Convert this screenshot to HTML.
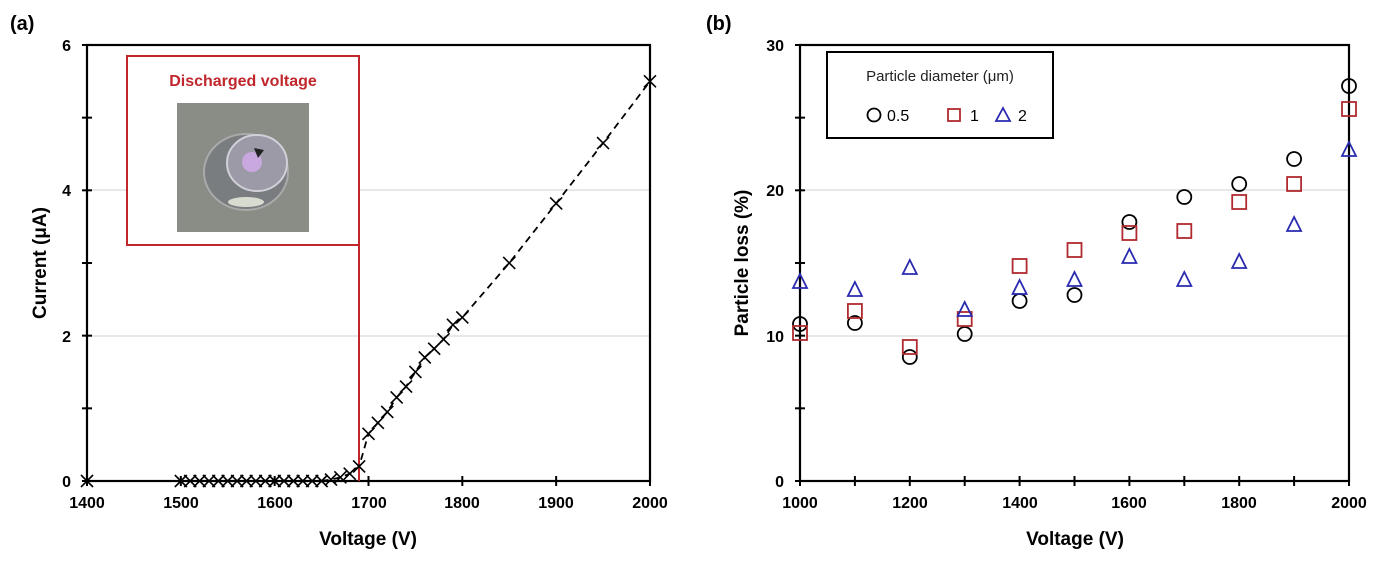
<!DOCTYPE html>
<html><head><meta charset="utf-8"><style>
html,body{margin:0;padding:0;background:#fff;}
svg{display:block;font-family:"Liberation Sans",Arial,sans-serif;}
</style></head><body>
<svg id="s" width="1384" height="562" viewBox="0 0 1384 562" xmlns="http://www.w3.org/2000/svg">
<rect width="1384" height="562" fill="#fff"/>
<!-- Panel a -->
<text x="10" y="30" font-size="20" font-weight="bold">(a)</text>
<line x1="87" y1="336" x2="650" y2="336" stroke="#d9d9d9" stroke-width="1.2"/>
<line x1="87" y1="190" x2="650" y2="190" stroke="#d9d9d9" stroke-width="1.2"/>
<rect x="87" y="45" width="563" height="436" fill="none" stroke="#000" stroke-width="2.2"/>
<g font-size="16" font-weight="bold" text-anchor="end">
<text x="71" y="487">0</text><text x="71" y="342">2</text><text x="71" y="196">4</text><text x="71" y="51">6</text>
</g>
<g font-size="16" font-weight="bold" text-anchor="middle">
<text x="87" y="508">1400</text><text x="181" y="508">1500</text><text x="275" y="508">1600</text><text x="369" y="508">1700</text><text x="462" y="508">1800</text><text x="556" y="508">1900</text><text x="650" y="508">2000</text>
<text x="368" y="545" font-size="19">Voltage (V)</text>
</g>
<text transform="translate(46,263) rotate(-90)" font-size="19" font-weight="bold" text-anchor="middle">Current (μA)</text>
<g id="ta" stroke="#000" stroke-width="2"></g>
<rect x="127" y="56" width="232" height="189" fill="#fff" stroke="#c0272d" stroke-width="2"/>
<line x1="359" y1="245" x2="359" y2="481" stroke="#c0272d" stroke-width="2"/>
<text x="243" y="86" font-size="16" font-weight="bold" fill="#c0272d" text-anchor="middle">Discharged voltage</text>
<rect x="177" y="103" width="132" height="129" fill="#8a8d86"/>
<ellipse cx="246" cy="172" rx="42" ry="38" fill="#7a7d80" stroke="#aaa" stroke-width="2"/>
<ellipse cx="257" cy="163" rx="30" ry="28" fill="#9d9aa8" stroke="#d0d0d8" stroke-width="2"/>
<circle cx="252" cy="162" r="10" fill="#c9a8e0"/>
<path d="M254 148 L264 150 L258 158 Z" fill="#222"/>
<ellipse cx="246" cy="202" rx="18" ry="5" fill="#d8dcd0"/>
<path id="da" fill="none" stroke="#000" stroke-width="1.8" stroke-dasharray="7,5"/>
<g id="ma" stroke="#000" stroke-width="1.6"></g>
<!-- Panel b -->
<text x="706" y="30" font-size="20" font-weight="bold">(b)</text>
<line x1="800" y1="336" x2="1349" y2="336" stroke="#d9d9d9" stroke-width="1.2"/>
<line x1="800" y1="190" x2="1349" y2="190" stroke="#d9d9d9" stroke-width="1.2"/>
<rect x="800" y="45" width="549" height="436" fill="none" stroke="#000" stroke-width="2.2"/>
<g font-size="16" font-weight="bold" text-anchor="end">
<text x="784" y="487">0</text><text x="784" y="342">10</text><text x="784" y="196">20</text><text x="784" y="51">30</text>
</g>
<g font-size="16" font-weight="bold" text-anchor="middle">
<text x="800" y="508">1000</text><text x="910" y="508">1200</text><text x="1020" y="508">1400</text><text x="1129" y="508">1600</text><text x="1239" y="508">1800</text><text x="1349" y="508">2000</text>
<text x="1075" y="545" font-size="19">Voltage (V)</text>
</g>
<text transform="translate(748,263) rotate(-90)" font-size="19" font-weight="bold" text-anchor="middle">Particle loss (%)</text>
<g id="tb" stroke="#000" stroke-width="2"></g>
<rect x="827" y="52" width="226" height="86" fill="#fff" stroke="#000" stroke-width="2"/>
<text x="940" y="81" font-size="15" text-anchor="middle" fill="#222">Particle diameter  (μm)</text>
<circle cx="874" cy="115" r="6.5" fill="none" stroke="#000" stroke-width="1.8"/>
<text x="887" y="121" font-size="16">0.5</text>
<rect x="948" y="109" width="12" height="12" fill="none" stroke="#b02a30" stroke-width="1.8"/>
<text x="970" y="121" font-size="16">1</text>
<path d="M1003 108 L1010 121 L996 121 Z" fill="none" stroke="#2a2ab0" stroke-width="1.8"/>
<text x="1018" y="121" font-size="16">2</text>
<g id="mb"></g>
<script>
var NS="http://www.w3.org/2000/svg";
function el(p,t,a){var e=document.createElementNS(NS,t);for(var k in a)e.setAttribute(k,a[k]);document.getElementById(p).appendChild(e);}
// ticks a
for(var i=0;i<=6;i++){var y=481-i*72.67;el("ta","line",{x1:82,x2:92,y1:y,y2:y});}
for(var v=1400;v<=2000;v+=100){var x=87+(v-1400)*0.9383;el("ta","line",{x1:x,x2:x,y1:476,y2:486});}
for(var i=0;i<=6;i++){var y=481-i*72.67;el("tb","line",{x1:795,x2:805,y1:y,y2:y});}
for(var v=1000;v<=2000;v+=100){var x=800+(v-1000)*0.549;el("tb","line",{x1:x,x2:x,y1:476,y2:486});}
// data a
var da=[[1400,0]];for(var v=1500;v<=1650;v+=10)da.push([v,0]);
da=da.concat([[1660,0.02],[1670,0.05],[1680,0.1],[1690,0.2],[1700,0.65],[1710,0.8],[1720,0.95],[1730,1.15],[1740,1.3],[1750,1.5],[1760,1.7],[1770,1.82],[1780,1.95],[1790,2.15],[1800,2.25],[1850,3.0],[1900,3.82],[1950,4.65],[2000,5.5]]);
var d="";da.forEach(function(p,i){var x=87+(p[0]-1400)*0.9383,y=481-p[1]*72.67;if(p[0]>=1650)d+=(d?"L":"M")+x+" "+y;
el("ma","line",{x1:x-6,y1:y-6,x2:x+6,y2:y+6});el("ma","line",{x1:x-6,y1:y+6,x2:x+6,y2:y-6});});
document.getElementById("da").setAttribute("d",d);
// data b
var C=[324,323,357,334,301,295,222,197,184,159,86],S=[333,311,347,319,266,250,233,231,202,184,109],T=[282,290,268,310,288,280,257,280,262,225,150];
for(var i=0;i<11;i++){var x=800+i*54.9;
el("mb","circle",{cx:x,cy:C[i],r:7,fill:"none",stroke:"#000","stroke-width":1.8});
el("mb","rect",{x:x-7,y:S[i]-7,width:14,height:14,fill:"none",stroke:"#b02a30","stroke-width":1.8});
el("mb","path",{d:"M"+x+" "+(T[i]-8)+" L"+(x+7)+" "+(T[i]+6)+" L"+(x-7)+" "+(T[i]+6)+" Z",fill:"none",stroke:"#2a2ab0","stroke-width":1.8});}
</script>
</svg>
</body></html>
